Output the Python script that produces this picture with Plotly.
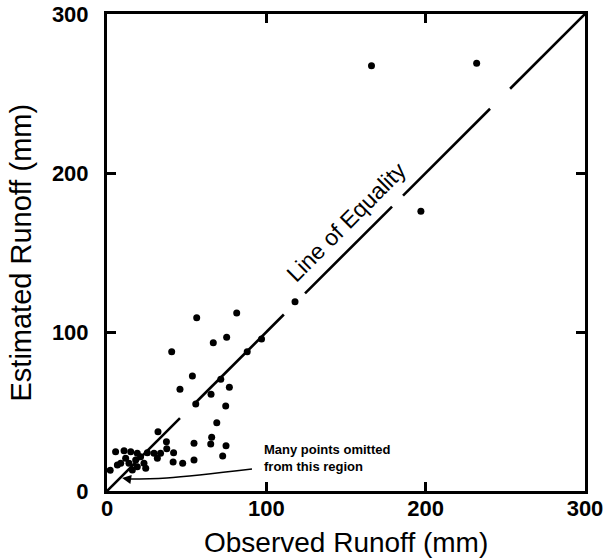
import plotly.graph_objects as go

# Observed / estimated runoff (mm)
obs = [166, 232, 197, 118, 97, 88, 81.4, 56.3, 40.6, 66.7, 75.1, 53.6, 71.4, 45.8,
       65.3, 76.8, 55.7, 74.5, 68.9, 32, 65.7, 65.1, 54.6, 74.7, 72.6, 54.6, 47.5,
       41.5, 41.8, 37.3, 37.5,
       5.4, 10.7, 14.9, 19, 25.3, 29.5, 11.7, 13.8, 8.6, 6.5, 18, 21.1, 23.2, 24.3,
       19, 15.9, 2, 31.6, 33.6]
est = [267.5, 269, 176, 119, 95.6, 87.6, 112, 109, 87.6, 93.3, 96.7, 72.3, 70.3, 64,
       60.8, 65.2, 54.7, 53.5, 43, 37.3, 33.8, 29.6, 30, 28.5, 22, 19.5, 17.4,
       18.2, 24, 31, 26.5,
       24.7, 25.3, 24.7, 23.7, 24.1, 23.7, 20.6, 17.4, 17.4, 16.4, 19.5, 21.6, 17.4, 14.3,
       15.3, 13.2, 13, 20.6, 23.7]

# Line of equality, drawn broken (segment start / end along y = x)
seg_start = [0, 55.2, 124.3, 185.8, 253]
seg_end = [45.8, 111, 178.9, 240.4, 300]

tick_vals = [0, 100, 200, 300]
tick_text = ["0", "100", "200", "300"]

# arrow path (observed, estimated) toward omitted-points region
arrow_x = [91.0, 37.5, 13.5]
arrow_y = [13.8, 8.2, 7.5]

FONT = "Liberation Sans, Arial, Helvetica, sans-serif"

lx, ly = [], []
for s, e in zip(seg_start, seg_end):
    lx += [s, e, None]
    ly += [s, e, None]

fig = go.Figure()
fig.add_trace(go.Scatter(x=lx, y=ly, mode="lines",
                         line=dict(color="black", width=2.6),
                         hoverinfo="skip", showlegend=False))
fig.add_trace(go.Scatter(x=obs, y=est, mode="markers",
                         marker=dict(color="black", size=7),
                         showlegend=False))
fig.add_trace(go.Scatter(x=arrow_x, y=arrow_y, mode="lines",
                         line=dict(color="black", width=1.5, shape="spline"),
                         hoverinfo="skip", showlegend=False))

fig.add_annotation(x=arrow_x[-1] - 4, y=arrow_y[-1] + 0.6, ax=arrow_x[-1], ay=arrow_y[-1],
                   xref="x", yref="y", axref="x", ayref="y", text="",
                   showarrow=True, arrowhead=2, arrowsize=1.2, arrowwidth=1.5,
                   arrowcolor="black", standoff=0)

fig.add_annotation(x=97.3, y=20.8, xref="x", yref="y", text="Many points omitted<br>from this region",
                   showarrow=False, xanchor="left", yanchor="middle", align="left",
                   font=dict(family=FONT, size=13, color="black", weight="bold"))

fig.add_annotation(x=150, y=169.5, xref="x", yref="y", text="Line of Equality",
                   showarrow=False, textangle=-45, xanchor="center", yanchor="middle",
                   font=dict(family=FONT, size=23, color="black"))

fig.add_annotation(x=0.5, y=(491 - 542) / 477.0, xref="paper", yref="paper",
                   text="Observed Runoff (mm)", showarrow=False,
                   xanchor="center", yanchor="middle",
                   font=dict(family=FONT, size=28, color="black"))
fig.add_annotation(x=-0.182, y=0.5, xref="paper", yref="paper", text="Estimated Runoff (mm)",
                   showarrow=False, textangle=-90, xanchor="center", yanchor="middle",
                   font=dict(family=FONT, size=29, color="black"))

axis_common = dict(range=[0, 300], tickvals=tick_vals, ticktext=tick_text,
                   ticks="inside", ticklen=9, tickwidth=2.5, tickcolor="black",
                   showline=True, linewidth=3, linecolor="black", mirror="ticks",
                   showgrid=False, zeroline=False, automargin=False,
                   tickfont=dict(family=FONT, size=22, color="black", weight="bold"))

fig.update_xaxes(**axis_common, ticklabelstandoff=-4)
fig.update_yaxes(**axis_common, ticklabelstandoff=11)

fig.update_layout(width=607, height=560, plot_bgcolor="white", paper_bgcolor="white",
                  margin=dict(l=107, r=22, t=14, b=69), showlegend=False)

fig.write_html("out.html")
